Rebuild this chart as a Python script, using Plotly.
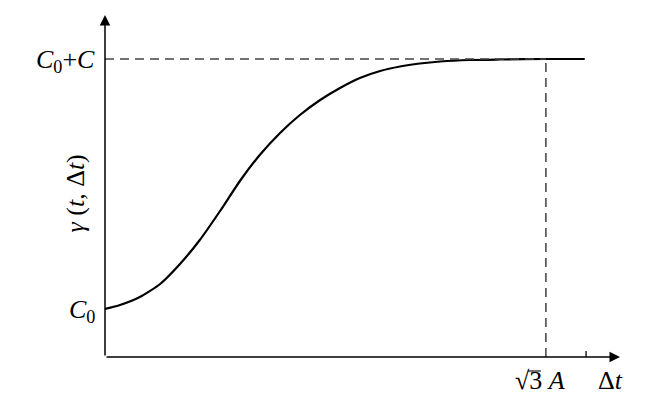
import plotly.graph_objects as go

# Curve data (x in units of sqrt(3)A, y in units where C0=1, C0+C=2)
curve_x = [0.0, 0.034, 0.079, 0.125, 0.170, 0.215, 0.261, 0.306, 0.351, 0.397, 0.442,
           0.488, 0.533, 0.578, 0.624, 0.669, 0.714, 0.760, 0.828, 0.896, 1.0, 1.088]
curve_y = [1.0, 1.016, 1.048, 1.100, 1.180, 1.276, 1.392, 1.512, 1.616, 1.704, 1.776,
           1.836, 1.884, 1.924, 1.952, 1.970, 1.982, 1.990, 1.996, 1.998, 2.0, 2.0]

y_tick_vals = [1.0, 2.0]
y_tick_text = ["<i>C</i><sub>0</sub>", "<i>C</i><sub>0</sub>+<i>C</i>"]
x_mark_val = 1.0
x_mark_text = "√3 <i>A</i>"
x_tick_end = 1.091
x_label = "Δ<i>t</i>"
y_label = "<i>γ</i> (<i>t</i>, Δ<i>t</i>)"

X_MIN, X_MAX = 0.0, 1.168
Y_MIN, Y_MAX = 0.808, 2.176

FONT = "Liberation Serif, Times New Roman, serif"
FS = 26

fig = go.Figure()
fig.add_trace(go.Scatter(x=curve_x, y=curve_y, mode="lines",
                         line=dict(color="black", width=2.2, shape="spline", smoothing=0.6),
                         hoverinfo="skip", showlegend=False, cliponaxis=False))

# dashed guides
fig.add_shape(type="line", x0=X_MIN, x1=x_mark_val, y0=y_tick_vals[1], y1=y_tick_vals[1],
              line=dict(color="#444", width=1.3, dash="9px,6px"))
fig.add_shape(type="line", x0=x_mark_val, x1=x_mark_val, y0=Y_MIN, y1=y_tick_vals[1],
              line=dict(color="#222", width=1.3, dash="9px,6px"))
# tick on x axis (pixel-sized)
fig.add_shape(type="line", x0=x_tick_end, x1=x_tick_end, y0=0, y1=6, xref="x", yref="y",
              ysizemode="pixel", yanchor=Y_MIN, line=dict(color="black", width=1.3))
# overline of the square-root sign (pixel offsets, paper refs so it is not clipped)
mark_paper_x = (x_mark_val - X_MIN) / (X_MAX - X_MIN)
fig.add_shape(type="line", xref="paper", yref="paper", xsizemode="pixel", ysizemode="pixel",
              xanchor=mark_paper_x, yanchor=0, x0=-18, x1=-5, y0=-14, y1=-14,
              line=dict(color="black", width=1.1))

annotations = []
# axes with arrows
annotations.append(dict(x=X_MAX, y=Y_MIN, ax=X_MIN, ay=Y_MIN, xref="x", yref="y",
                        axref="x", ayref="y", showarrow=True, arrowhead=2, arrowsize=1.4,
                        arrowwidth=1.5, arrowcolor="black", text=""))
annotations.append(dict(x=X_MIN, y=Y_MAX, ax=X_MIN, ay=Y_MIN, xref="x", yref="y",
                        axref="x", ayref="y", showarrow=True, arrowhead=2, arrowsize=1.4,
                        arrowwidth=1.5, arrowcolor="black", text=""))
for v, t in zip(y_tick_vals, y_tick_text):
    annotations.append(dict(x=X_MIN, y=v, xref="x", yref="y", text=t, showarrow=False,
                            xanchor="right", yanchor="middle", xshift=-8, yshift=-2,
                            font=dict(family=FONT, size=FS, color="black")))
annotations.append(dict(x=x_mark_val, y=Y_MIN, xref="x", yref="y", text=x_mark_text,
                        showarrow=False, xanchor="center", yanchor="top", yshift=-7, xshift=-6,
                        font=dict(family=FONT, size=FS, color="black")))
annotations.append(dict(x=x_tick_end, y=Y_MIN, xref="x", yref="y", text=x_label,
                        showarrow=False, xanchor="center", yanchor="top", yshift=-7, xshift=24,
                        font=dict(family=FONT, size=FS, color="black")))
annotations.append(dict(x=X_MIN, y=(Y_MIN + Y_MAX) / 2 - 0.03, xref="x", yref="y", text=y_label,
                        showarrow=False, textangle=-90, xanchor="center", yanchor="middle",
                        xshift=-30, font=dict(family=FONT, size=FS, color="black")))

fig.update_layout(
    width=672, height=411,
    margin=dict(l=97, r=60, t=7, b=62),
    paper_bgcolor="white", plot_bgcolor="white",
    xaxis=dict(range=[X_MIN, X_MAX], showgrid=False, zeroline=False, showticklabels=False,
               showline=False, ticks=""),
    yaxis=dict(range=[Y_MIN, Y_MAX], showgrid=False, zeroline=False, showticklabels=False,
               showline=False, ticks=""),
    annotations=annotations,
    showlegend=False,
)

fig.write_html("out.html")
